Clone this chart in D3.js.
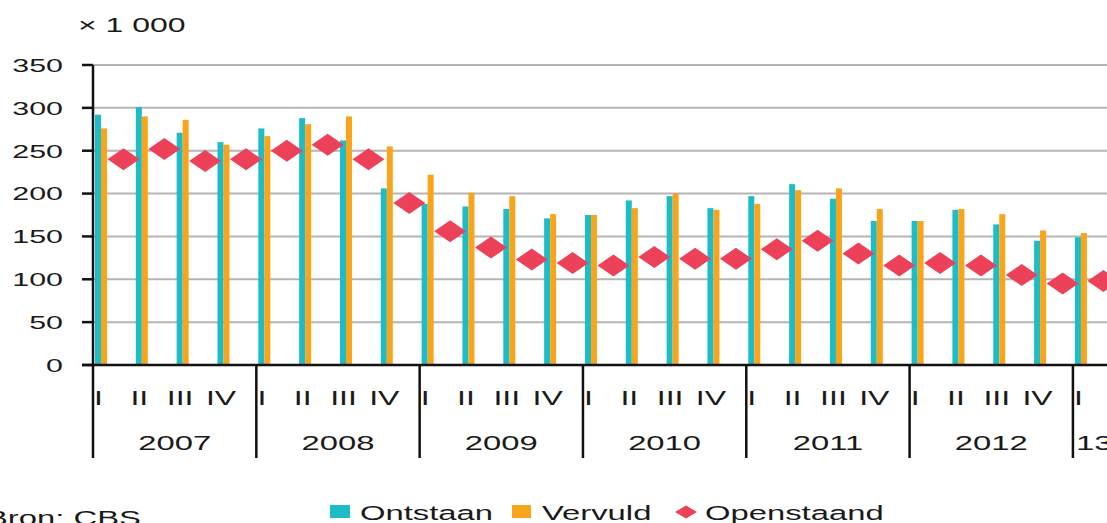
<!DOCTYPE html>
<html>
<head>
<meta charset="utf-8">
<script src="https://cdn.jsdelivr.net/npm/d3@7"></script>
<style>
body { margin: 0; background: #fff; overflow: hidden; }
text { font-family: "Liberation Sans", Arial, sans-serif; fill: #1a1a1a; }
</style>
</head>
<body>
<svg id="chart" width="1107" height="523"></svg>
<script>
// Data (x 1 000)
var years = ["2007", "2008", "2009", "2010", "2011", "2012", "13"];
var quarterNames = ["I", "II", "III", "IV"];
var ontstaan = [292, 301, 271, 260, 276, 288, 262, 206, 188, 185, 182, 171, 175, 192, 197, 183, 197, 211, 194, 168, 168, 181, 164, 145, 149];
var vervuld = [276, 290, 286, 257, 267, 281, 290, 255, 222, 201, 197, 176, 175, 183, 200, 181, 188, 204, 206, 182, 168, 182, 176, 157, 154];
var openstaand = [240, 252, 238, 240, 250, 257, 240, 189, 156, 137, 123, 119, 116, 126, 124, 124, 135, 145, 130, 116, 119, 116, 105, 95, 98];
var yTicks = [0, 50, 100, 150, 200, 250, 300, 350];
var legendNames = ["Ontstaan", "Vervuld", "Openstaand"];

var colCyan = "#1dbcc6";
var colOrange = "#f8a51c";
var colRed = "#ec4159";
// text in the picture is stretched sideways
var stretch = 1.6;

// One period per bar pair: year + quarter
var periods = [];
years.forEach(function(yr) {
    quarterNames.forEach(function(q) {
        if (periods.length < ontstaan.length) periods.push({ year: yr, q: q, key: yr + "-" + q });
    });
});

var svg = d3.select("#chart");
var W = 1107;
var x = d3.scaleBand().domain(periods.map(function(d) { return d.key; }))
    .range([93, 93 + periods.length * 40.83]).padding(0);
var y = d3.scaleLinear().domain([0, 350]).range([365, 65]);

function putText(px, py, str, size, anchor) {
    return svg.append("text")
        .attr("transform", "translate(" + px + "," + py + ") scale(" + stretch + ",1)")
        .attr("text-anchor", anchor)
        .attr("font-size", size)
        .text(str);
}

// Gridlines
svg.append("g").selectAll("line").data(yTicks.filter(function(v) { return v > 0; })).enter()
    .append("line")
    .attr("x1", 93).attr("x2", W)
    .attr("y1", function(v) { return y(v); }).attr("y2", function(v) { return y(v); })
    .attr("stroke", "#b5b5b5").attr("stroke-width", 2);

// Bars
var bars = svg.append("g");
bars.selectAll(".ont").data(ontstaan).enter().append("rect")
    .attr("x", function(v, i) { return x(periods[i].key) + 2; })
    .attr("width", 6)
    .attr("y", function(v) { return y(v); })
    .attr("height", function(v) { return y(0) - y(v); })
    .attr("fill", colCyan);
bars.selectAll(".ver").data(vervuld).enter().append("rect")
    .attr("x", function(v, i) { return x(periods[i].key) + 8; })
    .attr("width", 6)
    .attr("y", function(v) { return y(v); })
    .attr("height", function(v) { return y(0) - y(v); })
    .attr("fill", colOrange);

// Axes
var ax = svg.append("g").attr("stroke", "#111").attr("stroke-width", 2.5);
ax.append("line").attr("x1", 93).attr("x2", 93).attr("y1", y(350)).attr("y2", y(0));
ax.append("line").attr("x1", 82).attr("x2", W).attr("y1", y(0)).attr("y2", y(0));
ax.selectAll(".tk").data(yTicks).enter().append("line")
    .attr("x1", 82).attr("x2", 93)
    .attr("y1", function(v) { return y(v); }).attr("y2", function(v) { return y(v); });
// Year separators
var yearStarts = periods.filter(function(d) { return d.q == "I"; });
ax.selectAll(".sep").data(yearStarts).enter().append("line")
    .attr("x1", function(d) { return x(d.key); }).attr("x2", function(d) { return x(d.key); })
    .attr("y1", y(0)).attr("y2", 458);

// Diamonds for Openstaand
function diamond(cx, cy, w, h) {
    return "M" + (cx - w) + "," + cy + "L" + cx + "," + (cy - h) + "L" + (cx + w) + "," + cy + "L" + cx + "," + (cy + h) + "Z";
}
svg.append("g").selectAll("path").data(openstaand).enter().append("path")
    .attr("d", function(v, i) { return diamond(x(periods[i].key) + 30.5, y(v), 16, 11); })
    .attr("fill", colRed);

// Y tick labels
yTicks.forEach(function(v) {
    putText(63, y(v) + 6.8, String(v), 19, "end");
});
putText(78, 31.5, "\u00d7 1 000", 20, "start");

// Quarter labels
periods.forEach(function(d) {
    putText(x(d.key) + 5.5, 404.5, d.q, 20, "middle");
});
// Year labels
years.forEach(function(yr) {
    var ps = periods.filter(function(d) { return d.year == yr; });
    var x0 = x(ps[0].key);
    if (ps.length == 4) {
        putText(x0 + 2 * x.bandwidth(), 449.5, yr, 20.5, "middle");
    } else {
        // last year is cut off by the picture
        putText(x0 + 3, 449.5, yr, 20.5, "start");
    }
});

// Legend
svg.append("rect").attr("x", 330).attr("y", 505).attr("width", 20).attr("height", 13).attr("fill", colCyan);
putText(360, 519.5, legendNames[0], 20.5, "start");
svg.append("rect").attr("x", 512).attr("y", 505).attr("width", 19).attr("height", 13).attr("fill", colOrange);
putText(542, 519.5, legendNames[1], 20.5, "start");
svg.append("path").attr("d", diamond(686, 512, 11, 6.5)).attr("fill", colRed);
putText(705, 519.5, legendNames[2], 20.5, "start");

// Source
putText(-14, 525, "Bron: CBS", 20.5, "start");
</script>
</body>
</html>
